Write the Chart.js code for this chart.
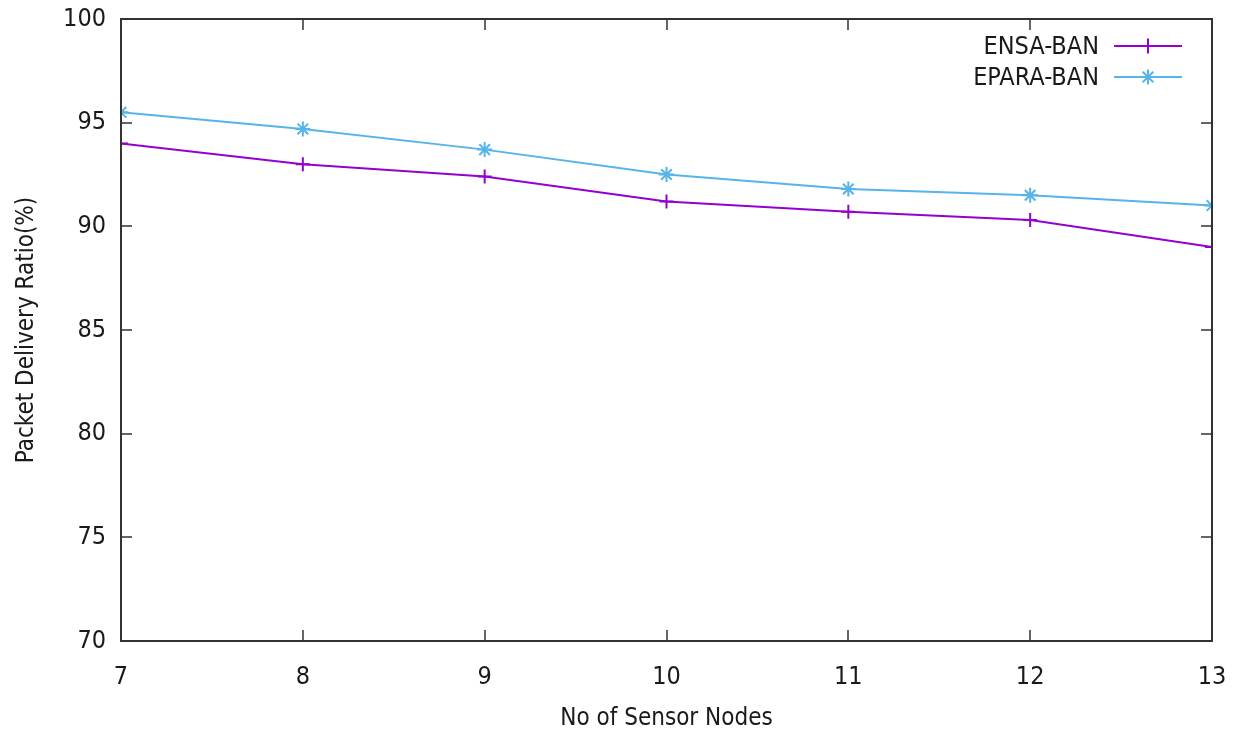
<!DOCTYPE html>
<html>
<head>
<meta charset="utf-8">
<script src="https://cdn.jsdelivr.net/npm/chart.js@4"></script>
<style>
html,body{margin:0;padding:0;background:#fff;}
#wrap{width:1238px;height:733px;}
</style>
</head>
<body>
<div id="wrap"><canvas id="c" width="1238" height="733"></canvas></div>
<script>
const nodes = [7, 8, 9, 10, 11, 12, 13];
const ensaBan = [94.0, 93.0, 92.4, 91.2, 90.7, 90.3, 89.0];
const eparaBan = [95.5, 94.7, 93.7, 92.5, 91.8, 91.5, 91.0];
const yTicks = [70, 75, 80, 85, 90, 95, 100];
const seriesLabels = ['ENSA-BAN', 'EPARA-BAN'];

const FONT = '"DejaVu Sans Condensed", "DejaVu Sans", sans-serif';
const FS = 25;
const FT = 24;
const TXT = '#1a1a1a';

function noPad(s) { s.paddingLeft = 0; s.paddingRight = 0; s.paddingTop = 0; s.paddingBottom = 0; }

const frame = {
  id: 'frame',
  afterDatasetsDraw(chart) {
    const {ctx, chartArea: a, scales} = chart;
    ctx.save();
    ctx.strokeStyle = '#333';
    ctx.lineWidth = 2;
    ctx.strokeRect(a.left, a.top, a.right - a.left, a.bottom - a.top);
    ctx.lineWidth = 1.5;
    const t = 11;
    ctx.beginPath();
    nodes.forEach(v => {
      const x = Math.round(scales.x.getPixelForValue(v));
      ctx.moveTo(x, a.bottom); ctx.lineTo(x, a.bottom - t);
      ctx.moveTo(x, a.top); ctx.lineTo(x, a.top + t);
    });
    yTicks.forEach(v => {
      const y = Math.round(scales.y.getPixelForValue(v));
      ctx.moveTo(a.left, y); ctx.lineTo(a.left + t, y);
      ctx.moveTo(a.right, y); ctx.lineTo(a.right - t, y);
    });
    ctx.stroke();
    // legend
    ctx.font = FS + 'px ' + FONT;
    ctx.textAlign = 'right';
    ctx.textBaseline = 'middle';
    chart.data.datasets.forEach((ds, i) => {
      const y = 46 + i * 31;
      ctx.fillStyle = TXT;
      ctx.fillText(ds.label, 1099, y + 1);
      ctx.strokeStyle = ds.borderColor;
      ctx.lineWidth = 2;
      ctx.beginPath(); ctx.moveTo(1114, y); ctx.lineTo(1182, y); ctx.stroke();
      Chart.helpers.drawPoint(ctx, {pointStyle: ds.pointStyle, radius: 7.5, borderWidth: 2}, 1148, y);
    });
    ctx.restore();
  }
};

new Chart(document.getElementById('c'), {
  type: 'line',
  data: {
    datasets: [
      {label: seriesLabels[0], data: nodes.map((n, i) => ({x: n, y: ensaBan[i]})),
       borderColor: '#9400d3', backgroundColor: '#9400d3', borderWidth: 2,
       pointStyle: 'cross', pointRadius: 7, pointBorderWidth: 2, pointHoverRadius: 7, tension: 0},
      {label: seriesLabels[1], data: nodes.map((n, i) => ({x: n, y: eparaBan[i]})),
       borderColor: '#56b4e9', backgroundColor: '#56b4e9', borderWidth: 2,
       pointStyle: 'star', pointRadius: 7.5, pointBorderWidth: 2, pointHoverRadius: 7.5, tension: 0}
    ]
  },
  options: {
    responsive: false,
    animation: false,
    devicePixelRatio: 1,
    layout: {padding: {top: 19, right: 26, left: 0, bottom: 0}},
    plugins: {legend: {display: false}, tooltip: {enabled: false}},
    scales: {
      x: {
        type: 'linear', min: 7, max: 13,
        afterFit(s) { s.height = 733 - 641; noPad(s); },
        afterBuildTicks(s) { s.ticks = nodes.map(v => ({value: v})); },
        grid: {display: false, drawTicks: false},
        border: {display: false},
        ticks: {padding: 21, color: TXT, font: {family: FONT, size: FS}},
        title: {display: true, text: 'No of Sensor Nodes', color: TXT, font: {family: FONT, size: FT}, padding: {top: 8, bottom: 0}}
      },
      y: {
        min: 70, max: 100,
        afterFit(s) { s.width = 121; noPad(s); },
        afterBuildTicks(s) { s.ticks = yTicks.map(v => ({value: v})); },
        grid: {display: false, drawTicks: false},
        border: {display: false},
        ticks: {padding: 15, color: TXT, font: {family: FONT, size: FS}},
        title: {display: true, text: 'Packet Delivery Ratio(%)', color: TXT, font: {family: FONT, size: FT}, padding: {top: 12, bottom: 0}}
      }
    }
  },
  plugins: [frame]
});
</script>
</body>
</html>
